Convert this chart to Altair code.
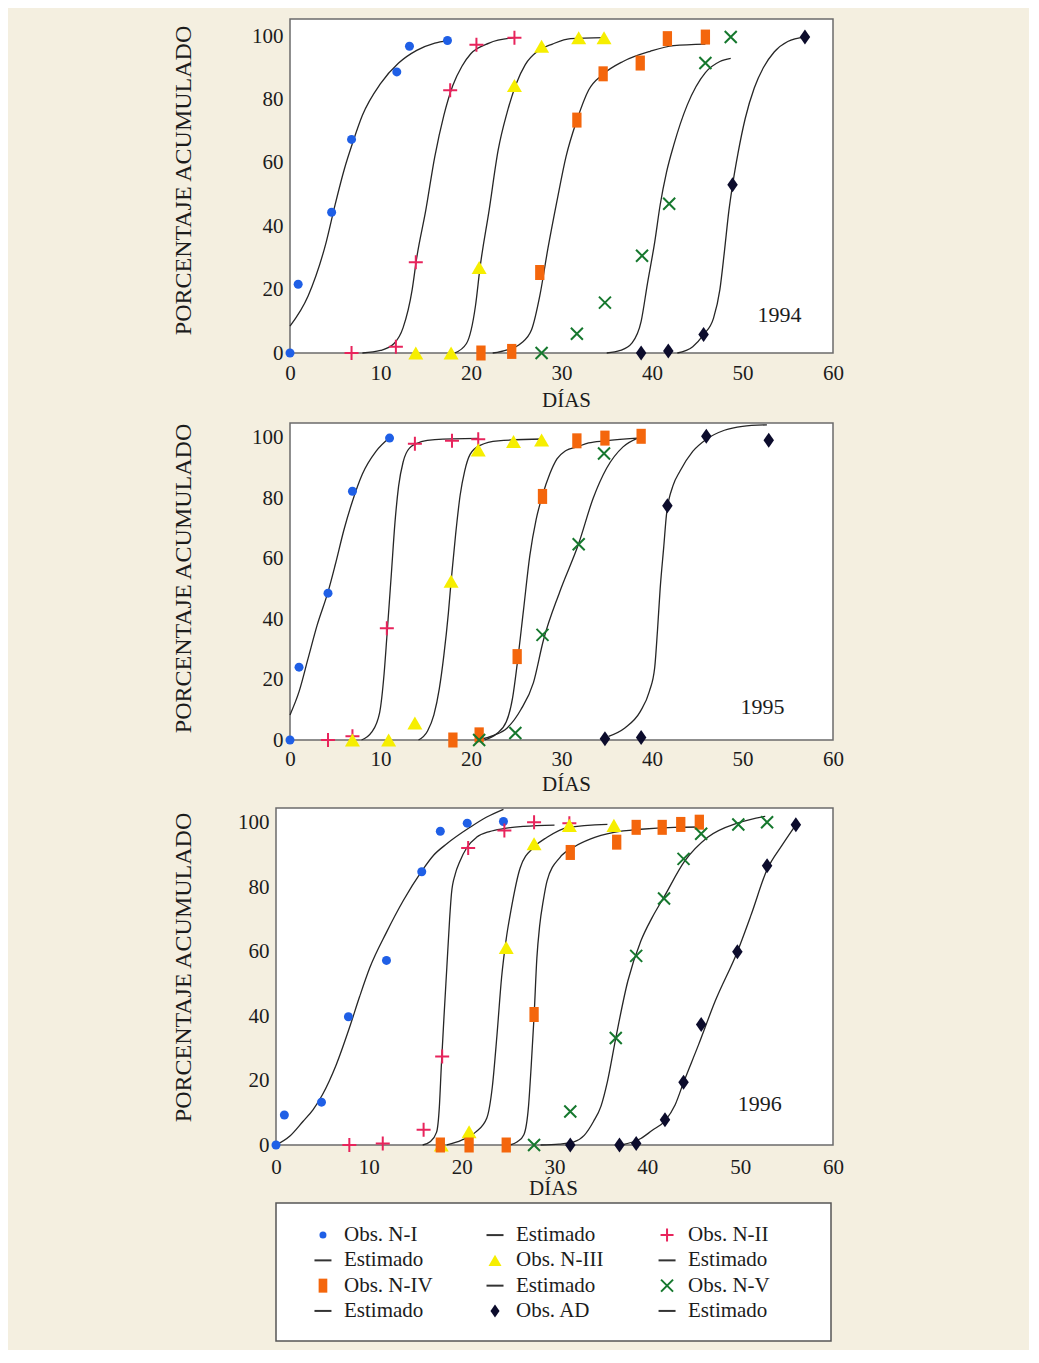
import altair as alt
import pandas as pd

FONT = "Liberation Serif"
INK = "#1c1c1c"
BG = "#f4efe0"

X_TICKS = [0, 10, 20, 30, 40, 50, 60]
Y_TICKS = [0, 20, 40, 60, 80, 100]

series_keys = ["N-I", "N-II", "N-III", "N-IV", "N-V", "AD", "Est"]
shape_range = ["circle", "M-1,0L1,0M0,-1L0,1", "M0,-0.87L1,0.87L-1,0.87Z", "M-0.62,-1L0.62,-1L0.62,1L-0.62,1Z",
               "M-1,-1L1,1M-1,1L1,-1", "M0,-1L0.7,0L0,1L-0.7,0Z", "M-1,0L1,0"]
fill_range = ["#1f5fe6", "transparent", "#f6ee00", "#f4660c", "transparent", "#0c0c2c", "transparent"]
stroke_range = ["transparent", "#e8245c", "transparent", "transparent", "#16782e", "transparent", "#333333"]
data_size = [81, 196, 225, 225, 144, 225, 289]
legend_size = [49, 169, 169, 196, 144, 169, 289]

legend_labels = ["Obs. N-I", "Estimado", "Obs. N-II", "Estimado", "Obs. N-III", "Estimado",
                 "Obs. N-IV", "Estimado", "Obs. N-V", "Estimado", "Obs. AD", "Estimado"]
legend_keys = ["N-I", "Est", "N-II", "Est", "N-III", "Est", "N-IV", "Est", "N-V", "Est", "AD", "Est"]

years = ["1994", "1995", "1996"]
year_x = [54.1, 52.2, 52.1]
year_y = [12.0, 11.0, 12.7]

# ---------------- 1994 ----------------
n1_94_obs_x = [0, 0.9, 4.6, 6.8, 11.8, 13.2, 17.4]
n1_94_obs_y = [0, 21.7, 44.4, 67.4, 88.7, 96.8, 98.6]
n1_94_est_x = [0, 2, 4, 5, 6, 7, 8, 10, 12, 14, 16, 17.4]
n1_94_est_y = [8.5, 18, 35, 47, 58, 67, 75, 85, 91.5, 95.5, 97.8, 98.6]

n2_94_obs_x = [6.8, 11.7, 13.9, 17.7, 20.6, 24.8]
n2_94_obs_y = [0, 2, 28.6, 82.9, 97.3, 99.5]
n2_94_est_x = [8, 10, 11.5, 12.5, 13.5, 14, 15, 16, 17, 18, 19, 20, 22, 24.8]
n2_94_est_y = [0, 0.8, 3, 8, 20, 30, 45, 62, 75, 84.5, 90.5, 94.5, 97.8, 99.5]

n3_94_obs_x = [13.9, 17.8, 20.9, 24.8, 27.8, 31.9, 34.7]
n3_94_obs_y = [0, 0, 27, 84.4, 96.8, 99.5, 99.5]
n3_94_est_x = [18.2, 19.5, 20.5, 21, 22, 23, 24, 25, 26, 27.5, 29, 31, 34.7]
n3_94_est_y = [0, 3, 15, 27, 45, 64, 76, 85, 91, 95.5, 97.5, 99.2, 99.5]

n4_94_obs_x = [21.1, 24.5, 27.6, 31.7, 34.6, 38.7, 41.7, 45.9]
n4_94_obs_y = [0, 0.5, 25.4, 73.5, 88.1, 91.5, 99.2, 99.7]
n4_94_est_x = [22.4, 24, 25.5, 26.7, 27.6, 28.5, 29.5, 30.5, 31.7, 33, 34.6, 36.8, 39.8, 42.4, 45.9]
n4_94_est_y = [0, 1, 3, 7.4, 18, 33, 48, 62, 73.5, 83, 88, 92, 95.2, 97, 97.5]

n5_94_obs_x = [27.8, 31.7, 34.8, 38.9, 41.9, 45.9, 48.7]
n5_94_obs_y = [0, 6.1, 15.9, 30.7, 47.1, 91.5, 99.7]
n5_94_est_x = [35, 36.5, 37.8, 38.8, 39.5, 40.3, 40.9, 41.6, 42.4, 43.9, 45.9, 47.5, 48.7]
n5_94_est_y = [0, 0.8, 3.2, 10, 22, 35, 46.7, 57, 65.6, 78.3, 88.5, 92, 93]

ad_94_obs_x = [38.8, 41.8, 45.7, 48.9, 56.9]
ad_94_obs_y = [0, 0.6, 5.8, 53.1, 99.7]
ad_94_est_x = [42.8, 44.5, 45.7, 46.8, 47.5, 48, 48.5, 48.9, 49.5, 50.3, 51.3, 52.3, 53.5, 55, 56.9]
ad_94_est_y = [0, 2, 5.8, 11, 20, 32, 45, 53, 63, 74, 83.6, 90, 95, 98.3, 99.7]

# ---------------- 1995 ----------------
n1_95_obs_x = [0, 1.0, 4.2, 6.9, 11.0]
n1_95_obs_y = [0, 24.1, 48.6, 82.3, 99.9]
n1_95_est_x = [0, 1, 2, 3, 4.2, 5, 6, 6.9, 8, 9.5, 11]
n1_95_est_y = [8.3, 16, 27, 38, 49, 58, 70, 79, 88, 95.5, 100]

n2_95_obs_x = [4.2, 6.9, 10.7, 13.8, 17.9, 20.8]
n2_95_obs_y = [0, 1.2, 37, 98, 99, 99.5]
n2_95_est_x = [7.9, 9, 9.9, 10.4, 10.7, 11.2, 11.6, 12, 12.5, 13.2, 14.5, 16, 20.8]
n2_95_est_y = [0, 2.5, 9, 22, 34, 55, 72, 84, 92, 96.6, 98.7, 99.4, 99.8]

n3_95_obs_x = [6.9, 10.9, 13.8, 17.8, 20.8, 24.7, 27.8]
n3_95_obs_y = [0, 0, 5.6, 52.5, 96, 98.8, 99.3]
n3_95_est_x = [14.2, 15.2, 15.9, 16.5, 17, 17.5, 17.8, 18.3, 18.8, 19.3, 19.9, 21, 23, 27.9]
n3_95_est_y = [0, 3, 8.3, 17, 28, 42, 52.5, 68, 81, 89, 94.5, 97.5, 99, 99.6]

n4_95_obs_x = [18.0, 20.9, 25.1, 27.9, 31.7, 34.8, 38.8]
n4_95_obs_y = [0, 1.7, 27.6, 80.6, 99, 99.9, 100.5]
n4_95_est_x = [21.5, 22.8, 23.9, 24.6, 25.1, 25.8, 26.5, 27.2, 27.9, 28.7, 29.5, 30.5, 31.7, 33, 34.8, 38.8]
n4_95_est_y = [0, 2, 6, 14, 25, 43, 61, 73, 81, 88, 93, 95.8, 97, 98.3, 99, 100]

n5_95_obs_x = [20.9, 24.9, 27.9, 31.9, 34.7]
n5_95_obs_y = [0, 2.3, 34.8, 64.8, 94.8]
n5_95_est_x = [20.8, 22.5, 24, 25.5, 26.9, 28, 29.8, 31.9, 33.5, 35, 36.8, 38.5]
n5_95_est_y = [0, 1.5, 4, 10, 19, 33, 49, 65, 80, 90, 97, 100]

ad_95_obs_x = [34.8, 38.8, 41.7, 46.0, 52.9]
ad_95_obs_y = [0.4, 0.8, 77.5, 100.5, 99.2]
ad_95_est_x = [35.2, 37, 38.7, 39.7, 40.3, 40.6, 40.9, 41.3, 41.6, 42.3, 43.1, 44.5, 46, 48, 50, 52.7]
ad_95_est_y = [1.2, 4, 9.4, 16, 24, 36, 50, 64, 74.6, 84, 89, 95.5, 99.5, 102.5, 103.8, 104.3]

# ---------------- 1996 ----------------
n1_96_obs_x = [0, 0.9, 4.9, 7.8, 11.9, 15.7, 17.7, 20.6, 24.5]
n1_96_obs_y = [0, 9.3, 13.3, 39.8, 57.3, 84.8, 97.4, 99.9, 100.4]
n1_96_est_x = [0, 1.5, 2.9, 4, 5, 6.5, 7.9, 9, 10.1, 11.9, 13.7, 15.7, 17, 18.4, 20.9, 22.7, 24.5]
n1_96_est_y = [0, 2.8, 7.3, 11, 15.6, 25, 36.3, 46, 55, 66, 75.8, 85, 90, 93.5, 98.6, 101.8, 104.2]

n2_96_obs_x = [7.9, 11.5, 15.9, 17.9, 20.7, 24.6, 27.8, 31.6]
n2_96_obs_y = [0, 0.5, 4.7, 27.5, 92.2, 97.6, 100.2, 99.9]
n2_96_est_x = [15.8, 16.6, 17.3, 17.6, 17.8, 18.1, 18.4, 18.7, 18.9, 19.3, 19.8, 20.6, 21.6, 23, 24.5, 26.7, 30]
n2_96_est_y = [0, 1, 4, 12, 24, 40, 55, 70, 78, 84, 88, 92.5, 95.5, 97.3, 98.2, 98.9, 99.3]

n3_96_obs_x = [17.8, 20.8, 24.8, 27.8, 31.6, 36.4]
n3_96_obs_y = [0, 4.1, 61.3, 93.5, 99.2, 99.2]
n3_96_est_x = [18.4, 20, 21.5, 22.7, 23.3, 23.8, 24.3, 24.8, 25.3, 26.3, 27.8, 29.2, 31.4, 35.7]
n3_96_est_y = [0, 1.5, 4, 8.3, 18, 34, 52, 64, 72.7, 86, 92.5, 95.5, 98.5, 99.5]

n4_96_obs_x = [17.7, 20.8, 24.8, 27.8, 31.7, 36.7, 38.8, 41.6, 43.6, 45.6]
n4_96_obs_y = [0, 0, 0, 40.5, 90.8, 94, 98.6, 98.6, 99.5, 100.2]
n4_96_est_x = [25.2, 26, 26.7, 27.2, 27.5, 27.8, 28.1, 28.4, 28.8, 29.2, 30.6, 32.1, 33.9, 36.4, 39.3, 42.9, 45.6]
n4_96_est_y = [0, 1, 3.2, 12, 25, 40, 58, 68, 76, 82, 89.3, 92.5, 95, 97, 98, 98.6, 98.7]

n5_96_obs_x = [27.8, 31.7, 36.6, 38.8, 41.8, 43.9, 45.8, 49.8, 52.9]
n5_96_obs_y = [0, 10.4, 33.2, 58.7, 76.5, 88.8, 96.6, 99.5, 100.2]
n5_96_est_x = [28.5, 30.5, 32.1, 33.2, 34.2, 35, 35.7, 36.6, 37.9, 39.3, 40.5, 41.8, 44, 46.5, 49.8, 52.7]
n5_96_est_y = [0, 0.3, 1, 3, 7.3, 12, 19.7, 33.2, 50.9, 63.3, 70.5, 77, 88, 95.5, 100, 102]

ad_96_obs_x = [31.7, 37.0, 38.8, 41.9, 43.9, 45.8, 49.7, 52.9, 56.0]
ad_96_obs_y = [0, 0, 0.5, 7.8, 19.5, 37.4, 60, 86.7, 99.4]
ad_96_est_x = [37.2, 39.3, 40.5, 41.9, 43, 43.9, 45.5, 47.3, 49.7, 51.2, 52.9, 54.5, 56]
ad_96_est_y = [0, 2, 4.5, 7.5, 12.5, 19.4, 31, 44.6, 60, 71.6, 85.5, 93, 99.4]


def table(parts):
    rows = []
    for key, xs, ys in parts:
        for a, b in zip(xs, ys):
            rows.append({"s": key, "x": a, "y": b})
    return pd.DataFrame(rows)


obs94 = table([("N-I", n1_94_obs_x, n1_94_obs_y), ("N-II", n2_94_obs_x, n2_94_obs_y),
               ("N-III", n3_94_obs_x, n3_94_obs_y), ("N-IV", n4_94_obs_x, n4_94_obs_y),
               ("N-V", n5_94_obs_x, n5_94_obs_y), ("AD", ad_94_obs_x, ad_94_obs_y)])
est94 = table([("N-I", n1_94_est_x, n1_94_est_y), ("N-II", n2_94_est_x, n2_94_est_y),
               ("N-III", n3_94_est_x, n3_94_est_y), ("N-IV", n4_94_est_x, n4_94_est_y),
               ("N-V", n5_94_est_x, n5_94_est_y), ("AD", ad_94_est_x, ad_94_est_y)])
obs95 = table([("N-I", n1_95_obs_x, n1_95_obs_y), ("N-II", n2_95_obs_x, n2_95_obs_y),
               ("N-III", n3_95_obs_x, n3_95_obs_y), ("N-IV", n4_95_obs_x, n4_95_obs_y),
               ("N-V", n5_95_obs_x, n5_95_obs_y), ("AD", ad_95_obs_x, ad_95_obs_y)])
est95 = table([("N-I", n1_95_est_x, n1_95_est_y), ("N-II", n2_95_est_x, n2_95_est_y),
               ("N-III", n3_95_est_x, n3_95_est_y), ("N-IV", n4_95_est_x, n4_95_est_y),
               ("N-V", n5_95_est_x, n5_95_est_y), ("AD", ad_95_est_x, ad_95_est_y)])
obs96 = table([("N-I", n1_96_obs_x, n1_96_obs_y), ("N-II", n2_96_obs_x, n2_96_obs_y),
               ("N-III", n3_96_obs_x, n3_96_obs_y), ("N-IV", n4_96_obs_x, n4_96_obs_y),
               ("N-V", n5_96_obs_x, n5_96_obs_y), ("AD", ad_96_obs_x, ad_96_obs_y)])
est96 = table([("N-I", n1_96_est_x, n1_96_est_y), ("N-II", n2_96_est_x, n2_96_est_y),
               ("N-III", n3_96_est_x, n3_96_est_y), ("N-IV", n4_96_est_x, n4_96_est_y),
               ("N-V", n5_96_est_x, n5_96_est_y), ("AD", ad_96_est_x, ad_96_est_y)])

one_row = pd.DataFrame({"f": [0]})


def symbol_layers(base, x_enc, y_enc, sizes):
    """One point layer per series, each with its own fixed symbol style."""
    layers = []
    for k, shp, fl, st, sz in zip(series_keys, shape_range, fill_range, stroke_range, sizes):
        layers.append(
            base.transform_filter(alt.datum.s == k)
            .mark_point(shape=shp, fill=fl, stroke=st, size=sz, strokeWidth=2, opacity=1, filled=True)
            .encode(x=x_enc, y=y_enc)
        )
    return layers


def panel(obs, est, idx, ymax, height, xdom, yoff, ytx, yty, xpad, xtx, xty):
    xs = alt.Scale(domain=xdom, nice=False, zero=False)
    ys = alt.Scale(domain=[0, ymax], nice=False, zero=False)
    xax = alt.Axis(values=X_TICKS, format="d", title="DÍAS", grid=False, ticks=False, tickSize=0,
                   domain=False, labelPadding=xpad, labelFlush=False, titleX=xtx, titleY=xty,
                   titleBaseline="top", titleAlign="center")
    yax = alt.Axis(values=Y_TICKS, format="d", title="PORCENTAJE ACUMULADO", grid=False, ticks=False,
                   tickSize=0, domain=False, labelPadding=7, labelFlush=False, offset=yoff,
                   titleX=ytx, titleY=yty, titleAngle=270, titleBaseline="middle",
                   titleAlign="center", titleFontSize=24)
    frame = alt.Chart(one_row).mark_rect(fill="white", stroke="#6b6b6b", strokeWidth=1.5).encode(
        x=alt.XDatum(0, scale=xs, axis=xax, type="quantitative"),
        x2=alt.X2Datum(60),
        y=alt.YDatum(0, scale=ys, axis=yax, type="quantitative"),
        y2=alt.Y2Datum(ymax),
    )
    x_enc = alt.X("x:Q", scale=xs, axis=xax)
    y_enc = alt.Y("y:Q", scale=ys, axis=yax)
    lines = alt.Chart(est).mark_line(color="#262626", strokeWidth=1.3, interpolate="monotone").encode(
        x=x_enc, y=y_enc, detail="s:N",
    )
    yr = pd.DataFrame({"t": [years[idx]], "x": [year_x[idx]], "y": [year_y[idx]]})
    label = alt.Chart(yr).mark_text(font=FONT, fontSize=22, color=INK).encode(
        x=x_enc, y=y_enc, text="t:N",
    )
    pts = symbol_layers(alt.Chart(obs), x_enc, y_enc, data_size[:-1])
    return alt.layer(frame, lines, label, *pts).properties(width=557, height=height)


p1 = panel(obs94, est94, 0, 105.4, 334, [-1.547, 60], -14, -107, 161, 9.5, 290, 36)
p2 = panel(obs95, est95, 1, 104.9, 317, [-1.547, 60], -14, -107, 155, 8, 290, 33)
p3 = panel(obs96, est96, 2, 104.6, 337, [0, 60], 0, -93, 159, 11, 277, 32)

leg_df = pd.DataFrame({
    "lab": legend_labels,
    "s": legend_keys,
    "c": [i % 3 for i in range(len(legend_labels))],
    "r": [i // 3 for i in range(len(legend_labels))],
})
lx = alt.Scale(domain=[-0.273, 2.953], nice=False, zero=False)
ly = alt.Scale(domain=[-1.27, 4.19], nice=False, zero=False, reverse=True)
lx_enc = alt.X("c:Q", scale=lx, axis=None)
ly_enc = alt.Y("r:Q", scale=ly, axis=None)
leg_syms = symbol_layers(alt.Chart(leg_df), lx_enc, ly_enc, legend_size)
leg_txt = alt.Chart(leg_df).mark_text(align="left", baseline="middle", dx=21, font=FONT,
                                      fontSize=21, color=INK).encode(
    x=lx_enc, y=ly_enc, text="lab:N",
)
legend = alt.layer(*leg_syms, leg_txt).properties(
    width=555, height=138,
    view=alt.ViewBackground(fill="white", stroke="#555555", strokeWidth=1.5),
)

bottom = alt.vconcat(p3, legend, spacing=4)
chart = alt.vconcat(p1, p2, bottom, spacing=12).properties(
    background=BG,
    padding={"left": 163, "top": 10, "right": 185, "bottom": 8},
).configure_axis(
    labelFont=FONT, titleFont=FONT, labelFontSize=21, titleFontSize=21,
    labelColor=INK, titleColor=INK, titleFontWeight="normal",
).configure_view(strokeWidth=0)

chart.save("out.html", embed_options={"renderer": "svg", "actions": False})
